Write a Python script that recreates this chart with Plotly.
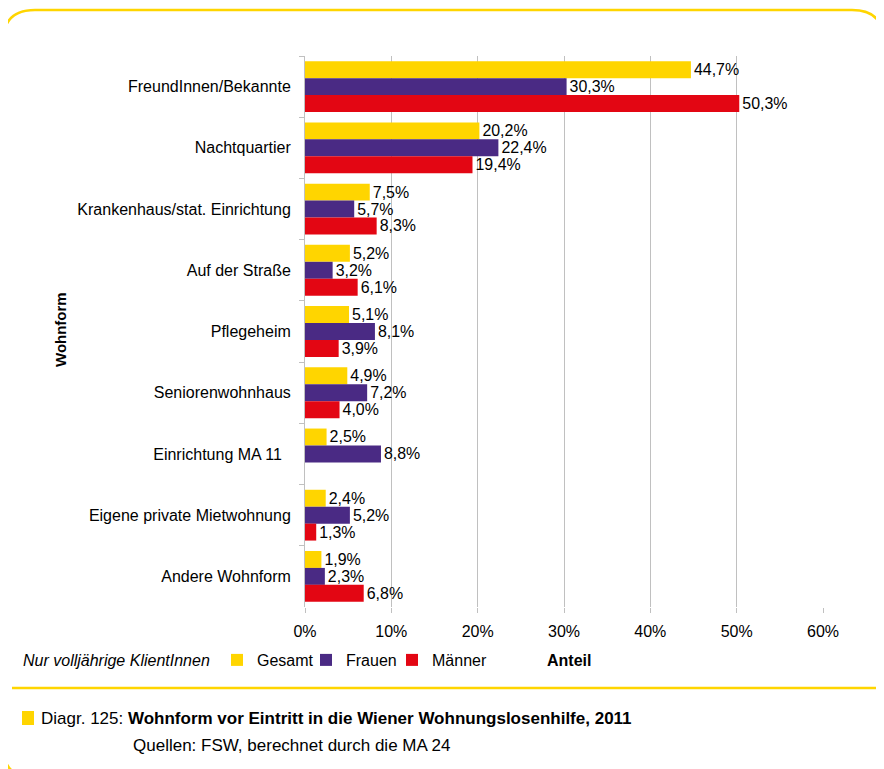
import plotly.graph_objects as go

categories = ["FreundInnen/Bekannte", "Nachtquartier", "Krankenhaus/stat. Einrichtung",
              "Auf der Straße", "Pflegeheim", "Seniorenwohnhaus", "Einrichtung MA 11  ",
              "Eigene private Mietwohnung", "Andere Wohnform"]
gesamt = [44.7, 20.2, 7.5, 5.2, 5.1, 4.9, 2.5, 2.4, 1.9]
frauen = [30.3, 22.4, 5.7, 3.2, 8.1, 7.2, 8.8, 5.2, 2.3]
maenner = [50.3, 19.4, 8.3, 6.1, 3.9, 4.0, None, 1.3, 6.8]
x_ticks = [0, 10, 20, 30, 40, 50, 60]
x_ticktext = ["0%", "10%", "20%", "30%", "40%", "50%", "60%"]

# page body has an 8px margin, so the figure is made 8px smaller
W, H, OFF = 884, 769, 8
L, R, T, B = 305, 823, 56, 607
FONT = "Liberation Sans Narrow, Arial Narrow, Liberation Sans, Arial, sans-serif"
YELLOW = "#FFD500"
PURPLE = "#4A2A84"
RED = "#E30613"


def px(x):
    return (x - L) / (R - L)


def py(y):
    return (B - y) / (B - T)


fig = go.Figure()
series = [("Gesamt", gesamt, YELLOW, "legend", 217),
          ("Frauen", frauen, PURPLE, "legend2", 306),
          ("Männer", maenner, RED, "legend3", 392)]
for name, vals, col, leg, _ in series:
    fig.add_trace(go.Bar(
        y=categories, x=vals, name=name, orientation="h", legend=leg, showlegend=True,
        marker=dict(color=col, line=dict(width=0)),
        texttemplate="%{x:.1f}%", textposition="outside",
        textfont=dict(size=16, color="black", family=FONT),
        cliponaxis=False,
    ))

# rounded frame (top-left, top-right and bottom-left corners visible)
r = 32
bot = 778
frame = (f"M {px(3)},{py(10 + r)} Q {px(3)},{py(10)} {px(3 + r)},{py(10)} "
         f"L {px(884 - r)},{py(10)} Q {px(884)},{py(10)} {px(884)},{py(10 + r)} "
         f"L {px(884)},{py(bot)} L {px(3 + r)},{py(bot)} Q {px(3)},{py(bot)} {px(3)},{py(bot - r)} Z")

shapes = [
    dict(type="path", path=frame, xref="paper", yref="paper",
         line=dict(color=YELLOW, width=2.5), layer="below"),
    dict(type="line", xref="paper", yref="paper", x0=px(12), x1=px(884), y0=py(688), y1=py(688),
         line=dict(color=YELLOW, width=2.5)),
    dict(type="rect", xref="paper", yref="paper", x0=px(22), x1=px(34), y0=py(711), y1=py(725),
         fillcolor=YELLOW, line=dict(width=0)),
]


def note(text, x, y, size=16, anchor="left", angle=0):
    return dict(text=text, x=px(x), y=py(y), xref="paper", yref="paper",
                xanchor=anchor, yanchor="middle", textangle=angle, showarrow=False,
                font=dict(size=size, family=FONT, color="black"))


annotations = [
    note("<b>Wohnform</b>", 60, 330, size=15, anchor="center", angle=-90),
    note("<i>Nur volljährige KlientInnen</i>", 21, 660),
    note("<b>Anteil</b>", 569, 660, anchor="center"),
    note("Diagr. 125: <b>Wohnform vor Eintritt in die Wiener Wohnungslosenhilfe, 2011</b>", 39, 718, size=17),
    note("Quellen: FSW, berechnet durch die MA 24", 131, 745, size=17),
]

legends = {}
for _, _, _, leg, lx in series:
    legends[leg] = dict(orientation="h", x=px(lx), y=py(660), xanchor="left", yanchor="middle",
                        font=dict(size=16, family=FONT), itemclick=False,
                        bgcolor="rgba(0,0,0,0)")

fig.update_layout(
    width=W - OFF, height=H - OFF,
    margin=dict(l=L - OFF, r=W - R, t=T - OFF, b=H - B, autoexpand=False),
    paper_bgcolor="white", plot_bgcolor="white",
    font=dict(family=FONT, size=16, color="black"),
    separators=", ", showlegend=True,
    barmode="group", bargap=0.17, bargroupgap=0,
    shapes=shapes, annotations=annotations,
    xaxis=dict(range=[0, 60], tickvals=x_ticks, ticktext=x_ticktext, showgrid=True,
               gridcolor="#C0C0C0", gridwidth=1, zeroline=False, showline=False,
               ticks="outside", ticklen=5, tickcolor="#C0C0C0", ticklabelstandoff=5,
               tickfont=dict(size=16, family=FONT)),
    yaxis=dict(autorange="reversed", showline=True, linecolor="#C0C0C0", linewidth=1,
               ticks="outside", tickson="boundaries", ticklen=5, tickcolor="#C0C0C0",
               ticklabelstandoff=10, tickfont=dict(size=16, family=FONT), showgrid=False),
    **legends,
)

fig.write_html("out.html")
